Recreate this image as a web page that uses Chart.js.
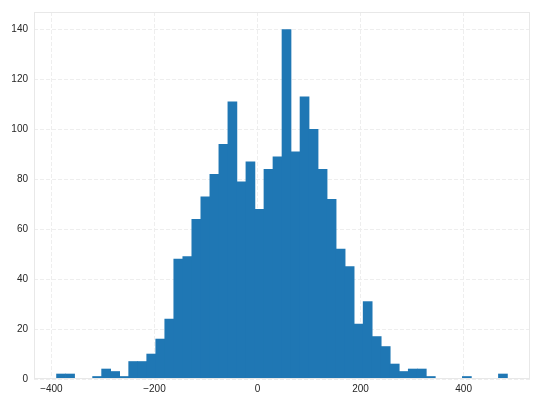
<!DOCTYPE html>
<html>
<head>
<meta charset="utf-8">
<script src="https://cdn.jsdelivr.net/npm/chart.js@4/dist/chart.umd.min.js"></script>
<style>
  html, body { margin: 0; padding: 0; background: #fff; }
  #wrap { width: 540px; height: 404px; }
</style>
</head>
<body>
<div id="wrap"><canvas id="hist" width="540" height="404"></canvas></div>
<script>
// histogram: 50 bins, left edge of first bin and bin width
var binStart = -390;
var binWidth = 17.5;
var counts = [
  2, 2, 0, 0, 1, 4, 3, 1, 7, 7,
  10, 16, 24, 48, 49, 64, 73, 82, 94, 111,
  79, 87, 68, 84, 89, 140, 91, 113, 100, 84,
  72, 52, 45, 22, 31, 17, 13, 6, 3, 4,
  4, 1, 0, 0, 0, 1, 0, 0, 0, 2
];
var xTicks = [-400, -200, 0, 200, 400];
var yTicks = [0, 20, 40, 60, 80, 100, 120, 140];
var xRange = [-433.75, 528.75];
var yRange = [0, 147];

var points = counts.map(function(c, i) {
  return { x: binStart + binWidth * (i + 0.5), y: c };
});

// light frame round the plot area (matplotlib spines)
var framePlugin = {
  id: "frame",
  afterDraw: function(chart) {
    var a = chart.chartArea, ctx = chart.ctx;
    ctx.save();
    ctx.strokeStyle = "#e8e8e8";
    ctx.lineWidth = 1;
    ctx.strokeRect(a.left + 0.5, a.top + 0.5, a.right - a.left - 1, a.bottom - a.top - 1);
    ctx.restore();
  }
};

function fixedTicks(list) {
  return function(scale) {
    scale.ticks = list.map(function(v) { return { value: v }; });
  };
}

var grid = {
  color: "#eeeeee",
  lineWidth: 1,
  drawTicks: false,
  offset: false
};

new Chart(document.getElementById("hist"), {
  type: "bar",
  data: {
    datasets: [{
      data: points,
      backgroundColor: "#1f77b4",
      borderWidth: 0,
      barPercentage: 1,
      categoryPercentage: 1
    }]
  },
  options: {
    responsive: false,
    animation: false,
    layout: { padding: { left: 0, top: 9, right: 10, bottom: 0 } },
    plugins: { legend: { display: false }, tooltip: { enabled: false } },
    scales: {
      x: {
        type: "linear",
        offset: false,
        min: xRange[0],
        max: xRange[1],
        afterBuildTicks: fixedTicks(xTicks),
        afterFit: function(s) { s.height = 25; },
        grid: grid,
        border: { display: false, dash: [4, 2] },
        ticks: {
          padding: 4,
          color: "#262626",
          font: { family: "Liberation Sans, Arial, sans-serif", size: 10 },
          maxRotation: 0,
          callback: function(v) { return v < 0 ? "\u2212" + Math.abs(v) : String(v); }
        }
      },
      y: {
        type: "linear",
        min: yRange[0],
        max: yRange[1],
        afterBuildTicks: fixedTicks(yTicks),
        afterFit: function(s) { s.width = 34; },
        grid: grid,
        border: { display: false, dash: [4, 2] },
        ticks: {
          padding: 6,
          color: "#262626",
          font: { family: "Liberation Sans, Arial, sans-serif", size: 10 }
        }
      }
    }
  },
  plugins: [framePlugin]
});
</script>
</body>
</html>
